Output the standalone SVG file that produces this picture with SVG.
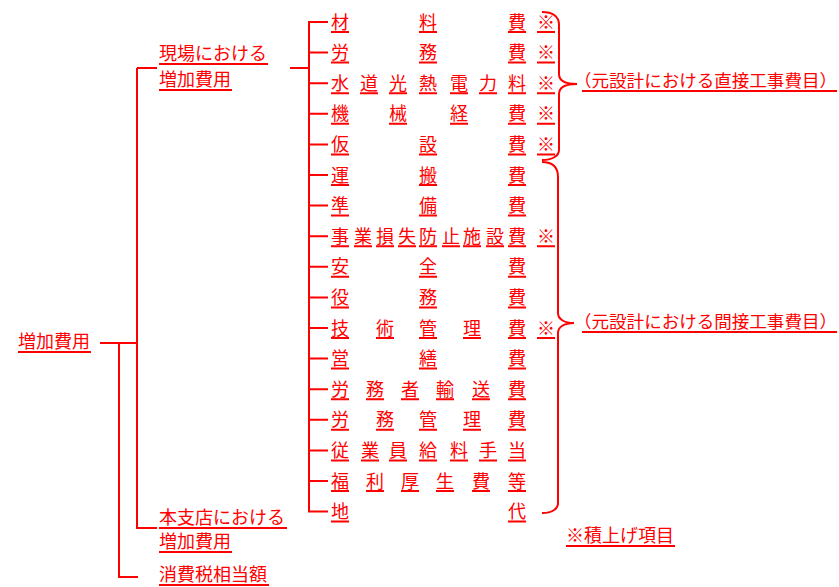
<svg xmlns="http://www.w3.org/2000/svg" width="839" height="587" viewBox="0 0 839 587">
<style>
text{font-family:"Noto Sans CJK JP","Noto Sans CJK SC",sans-serif;font-size:18px;fill:#ff0000}
.b{font-size:17px}
.ln{stroke:#ff0000;stroke-width:2;fill:none}
.ul{stroke:#ff0000;stroke-width:2;fill:none}
</style>
<rect width="839" height="587" fill="#ffffff"/>
<g id="connectors">
<path class="ln" d="M100,343 H137 M137,68 V528 H157 M137,68 H157 M119,343 V577 H138"/>
<path class="ln" d="M290,68 H309 M328,22 H309 V511.6 H328 M309,52.6 H328 M309,83.2 H328 M309,113.8 H328 M309,144.4 H328 M309,175 H328 M309,205.6 H328 M309,236.2 H328 M309,266.8 H328 M309,297.4 H328 M309,328 H328 M309,358.6 H328 M309,389.2 H328 M309,419.8 H328 M309,450.4 H328 M309,481 H328"/>
<path class="ln" stroke-width="1.8" d="M542,12 C552,12 559,16 559,25 V74 C559,80 565,84 577,84 C565,84 559,88 559,94 V150 C559,156 552,160 542,160"/>
<path class="ln" stroke-width="1.8" d="M542,162 C552,162 558,167 558,177 V313 C558,319 564,323 574,323 C564,323 558,327 558,333 V503 C558,509 552,513 542,513"/>
</g>
<g id="root">
<text x="18" y="348">増加費用</text>
<path class="ul" d="M18,352 H91"/>
</g>
<g id="genba">
<text x="159" y="60">現場における</text>
<path class="ul" d="M159,64 H268"/>
<text x="159" y="86">増加費用</text>
<path class="ul" d="M159,90 H232"/>
</g>
<g id="honshiten">
<text x="159" y="524">本支店における</text>
<path class="ul" d="M159,528 H287"/>
<text x="159" y="548">増加費用</text>
<path class="ul" d="M159,552 H232"/>
</g>
<g id="shohizei">
<text x="159" y="581">消費税相当額</text>
<path class="ul" d="M159,585 H269"/>
</g>
<g id="r0"><text x="331" y="28.5">材</text><text x="419" y="28.5">料</text><text x="508" y="28.5">費</text><text x="537" y="28.5">※</text>
<path class="ul" d="M331,32 h18 M419,32 h18 M508,32 h18 M537,32 h18"/></g>
<g id="r1"><text x="331" y="59.1">労</text><text x="419" y="59.1">務</text><text x="508" y="59.1">費</text><text x="537" y="59.1">※</text>
<path class="ul" d="M331,62.6 h18 M419,62.6 h18 M508,62.6 h18 M537,62.6 h18"/></g>
<g id="r2"><text x="331" y="89.7">水</text><text x="360" y="89.7">道</text><text x="389" y="89.7">光</text><text x="419" y="89.7">熱</text><text x="450" y="89.7">電</text><text x="479" y="89.7">力</text><text x="508" y="89.7">料</text><text x="537" y="89.7">※</text>
<path class="ul" d="M331,93.2 h18 M360,93.2 h18 M389,93.2 h18 M419,93.2 h18 M450,93.2 h18 M479,93.2 h18 M508,93.2 h18 M537,93.2 h18"/></g>
<g id="r3"><text x="331" y="120.3">機</text><text x="389" y="120.3">械</text><text x="450" y="120.3">経</text><text x="508" y="120.3">費</text><text x="537" y="120.3">※</text>
<path class="ul" d="M331,123.8 h18 M389,123.8 h18 M450,123.8 h18 M508,123.8 h18 M537,123.8 h18"/></g>
<g id="r4"><text x="331" y="150.9">仮</text><text x="419" y="150.9">設</text><text x="508" y="150.9">費</text><text x="537" y="150.9">※</text>
<path class="ul" d="M331,154.4 h18 M419,154.4 h18 M508,154.4 h18 M537,154.4 h18"/></g>
<g id="r5"><text x="331" y="181.5">運</text><text x="419" y="181.5">搬</text><text x="508" y="181.5">費</text>
<path class="ul" d="M331,185 h18 M419,185 h18 M508,185 h18"/></g>
<g id="r6"><text x="331" y="212.1">準</text><text x="419" y="212.1">備</text><text x="508" y="212.1">費</text>
<path class="ul" d="M331,215.6 h18 M419,215.6 h18 M508,215.6 h18"/></g>
<g id="r7"><text x="331" y="242.7">事</text><text x="354" y="242.7">業</text><text x="376" y="242.7">損</text><text x="398" y="242.7">失</text><text x="419" y="242.7">防</text><text x="442" y="242.7">止</text><text x="463" y="242.7">施</text><text x="486" y="242.7">設</text><text x="508" y="242.7">費</text><text x="537" y="242.7">※</text>
<path class="ul" d="M331,246.2 h18 M354,246.2 h18 M376,246.2 h18 M398,246.2 h18 M419,246.2 h18 M442,246.2 h18 M463,246.2 h18 M486,246.2 h18 M508,246.2 h18 M537,246.2 h18"/></g>
<g id="r8"><text x="331" y="273.3">安</text><text x="419" y="273.3">全</text><text x="508" y="273.3">費</text>
<path class="ul" d="M331,276.8 h18 M419,276.8 h18 M508,276.8 h18"/></g>
<g id="r9"><text x="331" y="303.9">役</text><text x="419" y="303.9">務</text><text x="508" y="303.9">費</text>
<path class="ul" d="M331,307.4 h18 M419,307.4 h18 M508,307.4 h18"/></g>
<g id="r10"><text x="331" y="334.5">技</text><text x="376" y="334.5">術</text><text x="419" y="334.5">管</text><text x="463" y="334.5">理</text><text x="508" y="334.5">費</text><text x="537" y="334.5">※</text>
<path class="ul" d="M331,338 h18 M376,338 h18 M419,338 h18 M463,338 h18 M508,338 h18 M537,338 h18"/></g>
<g id="r11"><text x="331" y="365.1">営</text><text x="419" y="365.1">繕</text><text x="508" y="365.1">費</text>
<path class="ul" d="M331,368.6 h18 M419,368.6 h18 M508,368.6 h18"/></g>
<g id="r12"><text x="331" y="395.7">労</text><text x="366" y="395.7">務</text><text x="401" y="395.7">者</text><text x="436" y="395.7">輸</text><text x="472" y="395.7">送</text><text x="508" y="395.7">費</text>
<path class="ul" d="M331,399.2 h18 M366,399.2 h18 M401,399.2 h18 M436,399.2 h18 M472,399.2 h18 M508,399.2 h18"/></g>
<g id="r13"><text x="331" y="426.3">労</text><text x="376" y="426.3">務</text><text x="419" y="426.3">管</text><text x="463" y="426.3">理</text><text x="508" y="426.3">費</text>
<path class="ul" d="M331,429.8 h18 M376,429.8 h18 M419,429.8 h18 M463,429.8 h18 M508,429.8 h18"/></g>
<g id="r14"><text x="331" y="456.9">従</text><text x="361" y="456.9">業</text><text x="389" y="456.9">員</text><text x="419" y="456.9">給</text><text x="450" y="456.9">料</text><text x="479" y="456.9">手</text><text x="508" y="456.9">当</text>
<path class="ul" d="M331,460.4 h18 M361,460.4 h18 M389,460.4 h18 M419,460.4 h18 M450,460.4 h18 M479,460.4 h18 M508,460.4 h18"/></g>
<g id="r15"><text x="331" y="487.5">福</text><text x="366" y="487.5">利</text><text x="401" y="487.5">厚</text><text x="436" y="487.5">生</text><text x="472" y="487.5">費</text><text x="508" y="487.5">等</text>
<path class="ul" d="M331,491 h18 M366,491 h18 M401,491 h18 M436,491 h18 M472,491 h18 M508,491 h18"/></g>
<g id="r16"><text x="331" y="518.1">地</text><text x="508" y="518.1">代</text>
<path class="ul" d="M331,521.6 h18 M508,521.6 h18"/></g>
<g id="direct">
<text class="b" x="574" y="87" textLength="263" lengthAdjust="spacingAndGlyphs">（元設計における直接工事費目）</text>
<path class="ul" d="M582,91 H837"/>
</g>
<g id="indirect">
<text class="b" x="574" y="328" textLength="263" lengthAdjust="spacingAndGlyphs">（元設計における間接工事費目）</text>
<path class="ul" d="M582,332 H837"/>
</g>
<g id="note">
<text x="566" y="542">※積上げ項目</text>
<path class="ul" d="M566,546 H675"/>
</g>
</svg>
